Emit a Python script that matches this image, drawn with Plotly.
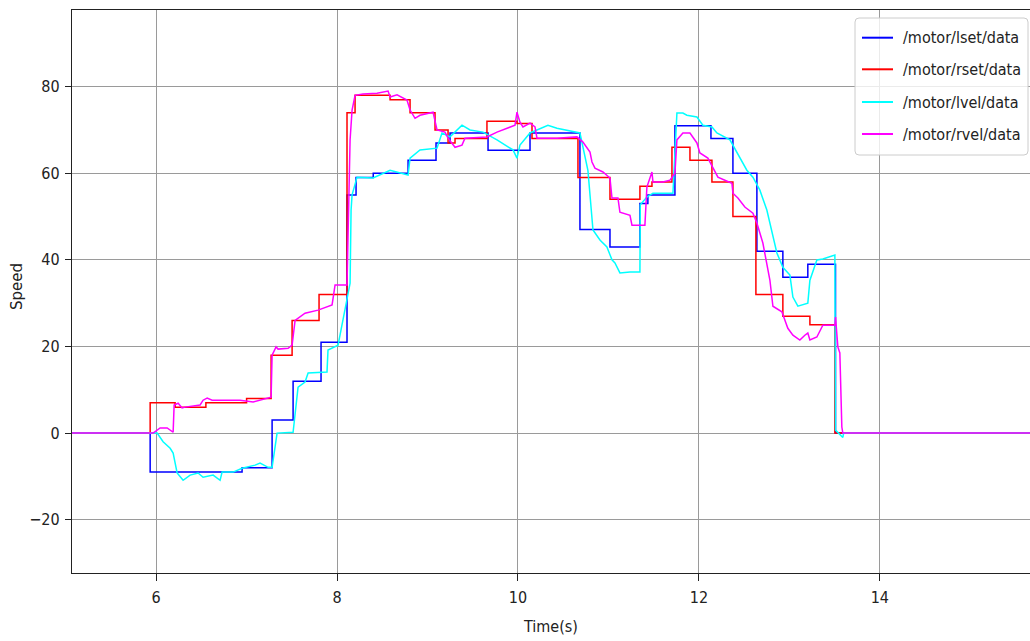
import plotly.graph_objects as go

# ---- data ----
# set-points (step signals, drawn with horizontal-then-vertical steps)
lset_t = [5.0, 5.934, 6.95, 7.282, 7.514, 7.823, 8.11, 8.21, 8.4, 8.785, 9.094, 9.249,
          9.669, 10.133, 10.685, 11.017, 11.348, 11.436, 11.735, 12.133, 12.376, 12.641,
          12.928, 13.204, 13.51, 16.0]
lset_v = [0, -9, -8, 3, 12, 21, 55, 59, 60, 63, 67, 69.3,
          65.3, 69.3, 47, 43, 53, 55, 71, 68, 60, 42,
          36, 39, 0, 0]

rset_t = [5.0, 5.934, 6.21, 6.55, 7.0, 7.271, 7.503, 7.801, 8.11, 8.199, 8.586, 8.807, 9.083,
          9.227, 9.304, 9.657, 9.989, 10.155, 10.663, 11.017, 11.348, 11.481, 11.702, 11.901,
          12.144, 12.376, 12.63, 12.928, 13.227, 13.503, 16.0]
rset_v = [0, 7, 6, 7, 8, 18, 26, 32, 74, 78, 77, 74, 70,
          67, 68, 72, 71.5, 68, 59, 54, 57, 58, 66, 63,
          58, 50, 32, 27, 25, 0, 0]

# measured velocities
lvel_t = [5.0, 5.934, 6.011, 6.077, 6.155, 6.188, 6.21, 6.232, 6.298, 6.376, 6.464, 6.519,
          6.63, 6.707, 6.729, 6.851, 6.95, 7.094, 7.149, 7.238, 7.282, 7.337, 7.514, 7.569,
          7.646, 7.68, 7.889, 7.9, 8.011, 8.11, 8.144, 8.155, 8.166, 8.221, 8.398, 8.586,
          8.785, 8.807, 8.917, 9.105, 9.16, 9.249, 9.381, 9.47, 9.613, 9.768, 9.945, 9.989,
          10.022, 10.133, 10.331, 10.431, 10.685, 10.773, 10.829, 10.906, 10.983, 11.039,
          11.072, 11.127, 11.238, 11.348, 11.352, 11.425, 11.492, 11.713, 11.757, 11.823,
          11.867, 11.978, 12.044, 12.144, 12.199, 12.343, 12.42, 12.53, 12.597, 12.674,
          12.751, 12.807, 12.862, 12.928, 13.006, 13.039, 13.094, 13.204, 13.227, 13.304,
          13.37, 13.503, 13.51, 13.591, 13.6, 16.0]
lvel_v = [0, 0, 0, -2, -3.5, -4.6, -6.9, -9.2, -10.9, -9.7, -9.2, -10.2,
          -9.7, -10.9, -9.0, -9.0, -8.1, -7.4, -6.9, -7.9, -7.9, 0, 0.2, 10.6,
          11.8, 13.9, 14.1, 19.2, 20.3, 30.7, 34.6, 51.5, 55, 59.1, 58.9, 60.7,
          59.6, 63.5, 65.4, 65.8, 69.3, 68.4, 71.1, 70, 69.5, 67.7, 65.4, 63.5,
          66.5, 69.3, 71.1, 70.4, 69.3, 60.7, 46.9, 44.6, 43, 40,
          39.3, 37, 37.2, 37.2, 52.7, 54.5, 55.4, 55.4, 73.9, 73.9,
          73.4, 73, 71.1, 70.7, 69.3, 67.7, 64.7, 60.7, 59.1, 56.1,
          51.5, 46.2, 41.6, 38.3, 36.5, 31.4, 29.3, 30, 35.3, 40,
          40.2, 41.1, 0.7, -1, 0, 0]

rvel_t = [5.0, 5.967, 6.044, 6.122, 6.188, 6.199, 6.243, 6.287, 6.32, 6.486, 6.519, 6.564,
          6.619, 6.928, 7.072, 7.238, 7.271, 7.282, 7.326, 7.348, 7.459, 7.503, 7.536, 7.646,
          7.79, 7.945, 7.978, 8.11, 8.144, 8.166, 8.199, 8.287, 8.442, 8.564, 8.586, 8.663,
          8.773, 8.807, 8.862, 8.917, 9.061, 9.105, 9.193, 9.227, 9.304, 9.381, 9.414, 9.657,
          9.768, 9.967, 9.989, 10.022, 10.055, 10.133, 10.188, 10.21, 10.431, 10.652, 10.718,
          10.796, 10.818, 10.851, 10.939, 11.017, 11.039, 11.105, 11.127, 11.238, 11.26,
          11.403, 11.425, 11.481, 11.492, 11.602, 11.68, 11.735, 11.757, 11.823, 11.901,
          11.978, 12.011, 12.099, 12.155, 12.21, 12.287, 12.365, 12.376, 12.431, 12.508,
          12.597, 12.641, 12.707, 12.785, 12.818, 12.917, 12.983, 13.039, 13.116, 13.171,
          13.204, 13.227, 13.304, 13.37, 13.503, 13.51, 13.536, 13.558, 13.58, 13.591, 16.0]
rvel_v = [0, 0, 1.2, 1.2, 0.2, 6.5, 6.9, 5.8, 6.0, 6.5, 7.6, 8.1,
          7.6, 7.6, 7.2, 8.1, 8.3, 18, 19.9, 19.4, 19.6, 20.3, 26, 27.7,
          28.4, 29.6, 34.2, 34.2, 67.7, 74.6, 78, 78.3, 78.5, 79, 77.6, 78.1,
          76.9, 74.6, 72.7, 73.4, 74.1, 70, 69.5, 68.1, 66, 66.5, 68.1, 68.4,
          69.5, 71.1, 74.1, 71.8, 70.7, 71.6, 70.7, 68.1, 68.1, 68.4, 67.2,
          64.9, 62.6, 61.2, 60.3, 58.9, 54.3, 54.3, 51, 50.3, 48,
          48, 56.8, 60.3, 58, 58, 58.4, 60, 67.7, 69.3, 69.3,
          67, 64.7, 63.5, 61.4, 59.1, 58.4, 57.7, 55.4, 54.3, 52.2,
          50.8, 48.5, 43.9, 35.3, 29.3, 28, 24.2, 22.6, 21.5, 22.6,
          23.1, 21.5, 22.2, 24.9, 24.9, 26.8, 19.9, 18.5, 1.4, 0, 0]

series_names = ["/motor/lset/data", "/motor/rset/data", "/motor/lvel/data", "/motor/rvel/data"]
series_colors = ["#0000ff", "#ff0000", "#00ffff", "#ff00ff"]

x_ticks = [6, 8, 10, 12, 14]
y_ticks = [-20, 0, 20, 40, 60, 80]

FONT = "DejaVu Sans Condensed, DejaVu Sans"

W, H = 1030, 641
ML, MR, MT, MB = 72, 0, 10, 68
PW, PH = W - ML - MR, H - MT - MB


def px(xs):  # page pixel (x) -> paper coordinate
    return (xs - ML) / PW


def py(ys):  # page pixel (y) -> paper coordinate
    return 1 - (ys - MT) / PH


fig = go.Figure()
traces = [(lset_t, lset_v, "hv"), (rset_t, rset_v, "hv"), (lvel_t, lvel_v, "linear"), (rvel_t, rvel_v, "linear")]
for (t, v, shp), name, col in zip(traces, series_names, series_colors):
    fig.add_trace(go.Scatter(x=t, y=v, mode="lines", name=name, showlegend=False,
                             line=dict(color=col, width=1.5, shape=shp)))

axis_common = dict(
    showline=True, linecolor="#222222", linewidth=1.3, mirror=True,
    showgrid=True, gridcolor="#9a9a9a", gridwidth=1.2, zeroline=False,
    ticks="outside", tickcolor="#222222", tickwidth=1,
    tickfont=dict(family=FONT, size=16, color="#222222"),
)

# legend box (matplotlib-like, rounded, semi-transparent)
bx0, bx1, by0, by1 = px(855), px(1028), py(18), py(155)
rx, ry = 4 / PW, 4 / PH
path = (f"M {bx0+rx},{by0} L {bx1-rx},{by0} Q {bx1},{by0} {bx1},{by0-ry} "
        f"L {bx1},{by1+ry} Q {bx1},{by1} {bx1-rx},{by1} L {bx0+rx},{by1} "
        f"Q {bx0},{by1} {bx0},{by1+ry} L {bx0},{by0-ry} Q {bx0},{by0} {bx0+rx},{by0} Z")
shapes = [dict(type="path", path=path, xref="paper", yref="paper", layer="above",
               fillcolor="rgba(255,255,255,0.8)", line=dict(color="#cccccc", width=1))]
annotations = []
row_y = [37.7, 69.3, 102.0, 134.0]
for ry_px, name, col in zip(row_y, series_names, series_colors):
    yy = py(ry_px)
    shapes.append(dict(type="line", xref="paper", yref="paper", layer="above",
                       x0=px(862), x1=px(893), y0=yy, y1=yy, line=dict(color=col, width=2)))
    annotations.append(dict(text=name, xref="paper", yref="paper", x=px(901), y=yy,
                            xanchor="left", yanchor="middle", showarrow=False,
                            font=dict(family=FONT, size=16, color="#222222")))

# y-axis title placed like the reference
annotations.append(dict(text="Speed", xref="paper", yref="paper", x=px(17), y=py(287),
                        xanchor="center", yanchor="middle", textangle=-90, showarrow=False,
                        font=dict(family="DejaVu Sans", size=15, color="#222222")))

fig.update_layout(
    width=W, height=H,
    margin=dict(l=ML, r=MR, t=MT, b=MB, autoexpand=False),
    paper_bgcolor="white", plot_bgcolor="white",
    font=dict(family=FONT, size=16, color="#222222"),
    xaxis=dict(range=[5.07, 15.66], tickvals=x_ticks, ticklen=7, ticklabelstandoff=3,
               title=dict(text="Time(s)", font=dict(family=FONT, size=16), standoff=14),
               **axis_common),
    yaxis=dict(range=[-32.3, 97.7], tickvals=y_ticks, ticklen=6, ticklabelstandoff=2,
               **axis_common),
    shapes=shapes,
    annotations=annotations,
    showlegend=False,
)

fig.write_html("out.html", config={"displayModeBar": False},
               post_script="document.body.style.margin='0';document.body.style.overflow='hidden';")
